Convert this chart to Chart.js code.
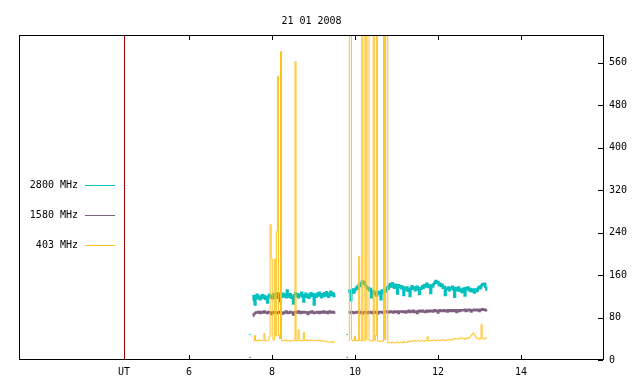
<!DOCTYPE html>
<html>
<head>
<meta charset="utf-8">
<script src="https://cdn.jsdelivr.net/npm/chart.js@4.4.1/dist/chart.umd.min.js"></script>
<style>
  html, body { margin: 0; padding: 0; background: #fff; }
  #chart { display: block; }
</style>
</head>
<body>
<canvas id="chart" width="640" height="384"></canvas>
<script>
const chartTitle = "21 01 2008";
const seriesNames = ["2800 MHz", "1580 MHz", "403 MHz"];
const seriesColors = ["#00c0c0", "#7f5f7f", "#ffc020"];

// axis ticks (hours UT / flux)
const hourTicks = [6, 8, 10, 12, 14];
const utHour = 4.43;
const valueTicks = [0, 80, 160, 240, 320, 400, 480, 560];

// two recorded stretches, one sample every 1.5 min
const sampleStep = 0.025;
const seg1Start = 7.54;
const seg2Start = 9.85;

// 2800 MHz
const mhz2800a = [
  112, 121, 104, 118, 123, 116, 120, 114, 119, 122,
  117, 121, 115, 119, 108, 120, 123, 118, 121, 116,
  124, 119, 122, 117, 126, 121, 111, 123, 119, 125,
  120, 123, 118, 131, 122, 119, 124, 117, 121, 106,
  122, 126, 120, 124, 118, 123, 121, 127, 119, 110,
  122, 125, 119, 123, 117, 121, 126, 120, 124, 104,
  123, 119, 125, 121, 127, 122, 118, 124, 120, 126,
  121, 128, 123, 119, 125, 129, 122, 126, 120, 124
];
const mhz2800b = [
  126, 131, 112, 129, 133, 127, 131, 135, 138, 134,
  142, 139, 145, 148, 144, 147, 141, 138, 134, 136,
  131, 134, 118, 128, 130, 124, 127, 121, 129, 125,
  128, 114, 131, 127, 130, 133, 129, 137, 134, 140,
  143, 138, 145, 140, 136, 142, 139, 125, 141, 137,
  139, 135, 138, 122, 136, 133, 137, 130, 134, 120,
  136, 139, 134, 137, 131, 135, 138, 133, 124, 136,
  134, 139, 136, 141, 138, 144, 142, 137, 140, 126,
  141, 138, 143, 146, 149, 145, 147, 141, 144, 139,
  142, 136, 138, 122, 135, 133, 137, 131, 136, 134,
  138, 133, 119, 136, 134, 131, 137, 130, 133, 128,
  132, 135, 121, 136, 133, 137, 131, 134, 129, 133,
  130, 127, 133, 129, 131, 136, 138, 135, 140, 143,
  141, 144, 137, 132
];

// 1580 MHz
const mhz1580a = [
  83, 86, 88, 90, 89, 91, 90, 88, 91, 89,
  90, 92, 89, 90, 88, 91, 89, 90, 86, 90,
  89, 91, 90, 88, 90, 89, 91, 90, 89, 87,
  90, 89, 92, 90, 88, 90, 91, 89, 90, 85,
  89, 91, 90, 89, 92, 90, 88, 91, 89, 90,
  91, 89, 90, 86, 90, 91, 89, 92, 90, 88,
  90, 89, 91, 90, 88, 91, 89, 90, 92, 89,
  90, 91, 88, 90, 92, 89, 91, 90, 89, 91
];
const mhz1580b = [
  88, 90, 89, 91, 90, 88, 90, 89, 91, 90,
  89, 91, 90, 87, 90, 89, 91, 90, 88, 90,
  91, 89, 90, 88, 91, 90, 89, 91, 87, 90,
  91, 90, 89, 91, 88, 90, 92, 91, 89, 91,
  92, 90, 91, 89, 92, 91, 90, 92, 88, 91,
  92, 91, 90, 92, 91, 89, 92, 91, 93, 90,
  92, 91, 93, 90, 92, 91, 88, 92, 93, 91,
  92, 93, 91, 92, 90, 93, 92, 91, 93, 92,
  93, 91, 92, 94, 92, 93, 89, 92, 94, 93,
  92, 93, 94, 92, 93, 91, 94, 93, 92, 94,
  93, 92, 94, 93, 90, 94, 93, 92, 94, 93,
  94, 93, 95, 92, 94, 93, 95, 94, 91, 94,
  93, 95, 94, 93, 95, 94, 92, 95, 94, 96,
  94, 95, 93, 95
];

// 403 MHz (bursts go off scale)
const mhz403a = [
  36, 37, 46, 36, 37, 36, 38, 36, 37, 36,
  37, 50, 36, 37, 36, 38, 44, 255, 191, 42,
  37, 190, 45, 242, 534, 46, 40, 581, 37, 36,
  37, 36, 38, 36, 37, 36, 35, 37, 36, 37,
  36, 562, 37, 36, 57, 38, 36, 37, 36, 52,
  37, 36, 38, 36, 37, 36, 38, 37, 36, 37,
  36, 37, 36, 38, 36, 35, 37, 36, 35, 36,
  35, 34, 35, 34, 33, 34, 35, 33, 34, 35
];
const mhz403b = [
  36, 700, 700, 38, 36, 37, 45, 36, 37, 36,
  195, 37, 36, 700, 37, 36, 700, 38, 700, 700,
  37, 36, 37, 36, 700, 37, 46, 700, 36, 35,
  36, 35, 36, 35, 700, 38, 700, 700, 33, 32,
  33, 32, 34, 32, 33, 32, 33, 34, 32, 33,
  34, 33, 32, 35, 33, 34, 33, 35, 34, 36,
  35, 36, 35, 37, 36, 35, 36, 37, 36, 35,
  36, 37, 36, 35, 37, 36, 44, 36, 37, 36,
  37, 36, 38, 37, 36, 37, 38, 37, 36, 38,
  37, 38, 37, 36, 38, 37, 38, 39, 38, 37,
  39, 40, 39, 41, 40, 39, 41, 40, 42, 41,
  40, 41, 39, 41, 40, 42, 41, 43, 46, 48,
  51, 49, 45, 42, 40, 41, 39, 40, 67, 41,
  39, 40, 42, 41
];

// single stray samples before each stretch
const dotHours = [7.47, 9.81];
const dot2800 = [48, 48];
const dot1580 = [5, 5];

const monoFont = "10px 'DejaVu Sans Mono', monospace";

// join the two stretches with a gap between them
function toPoints(first, second) {
  const pts = first.map((v, i) => ({ x: seg1Start + i * sampleStep, y: v }));
  pts.push({ x: (seg1Start + first.length * sampleStep + seg2Start) / 2, y: null });
  second.forEach((v, i) => pts.push({ x: seg2Start + i * sampleStep, y: v }));
  return pts;
}

function toDots(values) {
  return dotHours.map((h, i) => ({ x: h, y: values[i] }));
}

// gnuplot style frame, inward ticks, UT marker, title and key
const gnuplotFrame = {
  id: "gnuplotFrame",
  beforeDatasetsDraw(chart) {
    const { ctx, chartArea: a, scales: { x } } = chart;
    const ux = Math.round(x.getPixelForValue(utHour));
    ctx.save();
    ctx.fillStyle = "#a00000";
    ctx.fillRect(ux, a.top, 1, a.bottom - a.top);
    ctx.restore();
  },
  afterDatasetsDraw(chart) {
    const { ctx, chartArea: a, scales: { x, y } } = chart;
    ctx.save();
    ctx.strokeStyle = "#000";
    ctx.lineWidth = 1;
    ctx.strokeRect(a.left + 0.5, a.top + 0.5, a.right - a.left - 1, a.bottom - a.top - 1);
    ctx.beginPath();
    hourTicks.forEach(h => {
      const px = Math.round(x.getPixelForValue(h)) + 0.5;
      ctx.moveTo(px, a.bottom - 1);
      ctx.lineTo(px, a.bottom - 5);
      ctx.moveTo(px, a.top + 1);
      ctx.lineTo(px, a.top + 5);
    });
    valueTicks.forEach(v => {
      const py = Math.round(y.getPixelForValue(v)) + 0.5;
      ctx.moveTo(a.right - 1, py);
      ctx.lineTo(a.right - 6, py);
    });
    ctx.stroke();

    ctx.fillStyle = "#000";
    ctx.font = monoFont;
    ctx.textBaseline = "middle";
    ctx.textAlign = "center";
    ctx.fillText(chartTitle, (a.left + a.right) / 2, 21);

    // key
    ctx.textAlign = "right";
    seriesNames.forEach((name, i) => {
      const ky = 185 + i * 30;
      ctx.fillStyle = "#000";
      ctx.fillText(name, 78, ky + 0.5);
      ctx.fillStyle = seriesColors[i];
      ctx.fillRect(85, ky, 30, 1);
    });
    ctx.restore();
  }
};

const lineStyle = {
  borderWidth: 1,
  pointRadius: 0,
  stepped: "middle",
  spanGaps: false,
  fill: false
};

new Chart(document.getElementById("chart"), {
  type: "line",
  plugins: [gnuplotFrame],
  data: {
    datasets: [
      { ...lineStyle, label: seriesNames[2], data: toPoints(mhz403a, mhz403b), borderColor: seriesColors[2], order: 0 },
      { ...lineStyle, label: seriesNames[1], data: toPoints(mhz1580a, mhz1580b), borderColor: seriesColors[1], borderWidth: 2, order: 1 },
      { ...lineStyle, label: seriesNames[0], data: toPoints(mhz2800a, mhz2800b), borderColor: seriesColors[0], borderWidth: 2.2, order: 2 },
      { type: "scatter", data: toDots(dot2800), showLine: false, pointRadius: 0.8, pointBorderWidth: 0, backgroundColor: seriesColors[0], order: 3 },
      { type: "scatter", data: toDots(dot1580), showLine: false, pointRadius: 0.8, pointBorderWidth: 0, backgroundColor: seriesColors[1], order: 3 }
    ]
  },
  options: {
    responsive: false,
    animation: false,
    devicePixelRatio: 1,
    layout: { padding: { left: 19, top: 35, right: 0, bottom: 0 } },
    plugins: {
      legend: { display: false },
      title: { display: false },
      tooltip: { enabled: false }
    },
    scales: {
      x: {
        type: "linear",
        position: "bottom",
        min: 1.9,
        max: 16,
        grid: { display: false, drawTicks: false },
        border: { display: false },
        afterBuildTicks: scale => {
          scale.ticks = [utHour, ...hourTicks].map(v => ({ value: v }));
        },
        afterFit: scale => { scale.height = 24; },
        ticks: {
          autoSkip: false,
          maxRotation: 0,
          padding: 6,
          color: "#000",
          font: { family: "'DejaVu Sans Mono', monospace", size: 10 },
          callback: v => (v === utHour ? "UT" : String(v))
        }
      },
      y: {
        type: "linear",
        position: "right",
        min: 0,
        max: 612,
        grid: { display: false, drawTicks: false },
        border: { display: false },
        afterBuildTicks: scale => {
          scale.ticks = valueTicks.map(v => ({ value: v }));
        },
        afterFit: scale => { scale.width = 36; },
        ticks: {
          autoSkip: false,
          padding: 5,
          color: "#000",
          font: { family: "'DejaVu Sans Mono', monospace", size: 10 }
        }
      }
    }
  }
});
</script>
</body>
</html>
